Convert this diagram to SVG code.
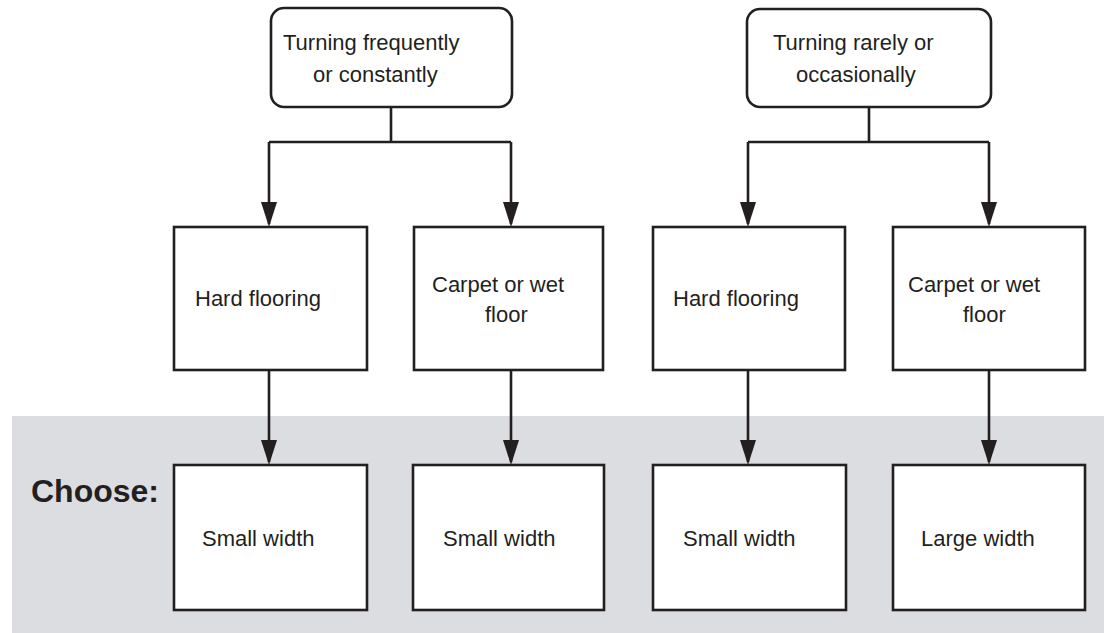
<svg xmlns="http://www.w3.org/2000/svg" width="1104" height="633" viewBox="0 0 1104 633">
<defs>
<style>
.box{fill:#fff;stroke:#231f20;stroke-width:2.6}
.t{font-family:"Liberation Sans",Arial,Helvetica,sans-serif;font-size:22px;fill:#231f20}
.b{font-family:"Liberation Sans",Arial,Helvetica,sans-serif;font-size:32px;font-weight:bold;fill:#231f20}
.c{fill:none;stroke:#231f20;stroke-width:2.6}
</style>
<marker id="ah" markerUnits="userSpaceOnUse" markerWidth="25" markerHeight="16" refX="22" refY="8" orient="auto" viewBox="0 0 25 16">
<path d="M0,0 L25,8 L0,16 Z" fill="#231f20"/>
</marker>
</defs>
<rect width="1104" height="633" fill="#fff"/>
<rect id="band" x="12" y="416" width="1092" height="217" fill="#dcdde0"/>
<text class="b" x="31" y="502">Choose:</text>
<g id="connectors">
<path class="c" d="M391,107 V142 M269,142 H511"/>
<path class="c" d="M269,142 V224" marker-end="url(#ah)"/>
<path class="c" d="M511,142 V224" marker-end="url(#ah)"/>
<path class="c" d="M869,107 V142 M748,142 H989"/>
<path class="c" d="M748,142 V224" marker-end="url(#ah)"/>
<path class="c" d="M989,142 V224" marker-end="url(#ah)"/>
<path class="c" d="M269,370 V462" marker-end="url(#ah)"/>
<path class="c" d="M511,370 V462" marker-end="url(#ah)"/>
<path class="c" d="M748,370 V462" marker-end="url(#ah)"/>
<path class="c" d="M989,370 V462" marker-end="url(#ah)"/>
</g>
<g id="top1">
<rect class="box" x="271" y="8" width="241" height="99" rx="13"/>
<text class="t" x="283" y="50">Turning frequently</text>
<text class="t" x="313" y="82">or constantly</text>
</g>
<g id="top2">
<rect class="box" x="747" y="9" width="244" height="98" rx="13"/>
<text class="t" x="773" y="50">Turning rarely or</text>
<text class="t" x="796" y="82">occasionally</text>
</g>
<g id="mid1">
<rect class="box" x="174" y="227" width="193" height="143"/>
<text class="t" x="195" y="306">Hard flooring</text>
</g>
<g id="mid2">
<rect class="box" x="414" y="227" width="189" height="143"/>
<text class="t" x="432" y="292">Carpet or wet</text>
<text class="t" x="485" y="322">floor</text>
</g>
<g id="mid3">
<rect class="box" x="653" y="227" width="192" height="143"/>
<text class="t" x="673" y="306">Hard flooring</text>
</g>
<g id="mid4">
<rect class="box" x="893" y="227" width="192" height="143"/>
<text class="t" x="908" y="292">Carpet or wet</text>
<text class="t" x="963" y="322">floor</text>
</g>
<g id="bot1">
<rect class="box" x="174" y="465" width="193" height="145"/>
<text class="t" x="202" y="546">Small width</text>
</g>
<g id="bot2">
<rect class="box" x="413" y="465" width="191" height="145"/>
<text class="t" x="443" y="546">Small width</text>
</g>
<g id="bot3">
<rect class="box" x="653" y="465" width="193" height="145"/>
<text class="t" x="683" y="546">Small width</text>
</g>
<g id="bot4">
<rect class="box" x="893" y="465" width="192" height="145"/>
<text class="t" x="921" y="546">Large width</text>
</g>
</svg>
